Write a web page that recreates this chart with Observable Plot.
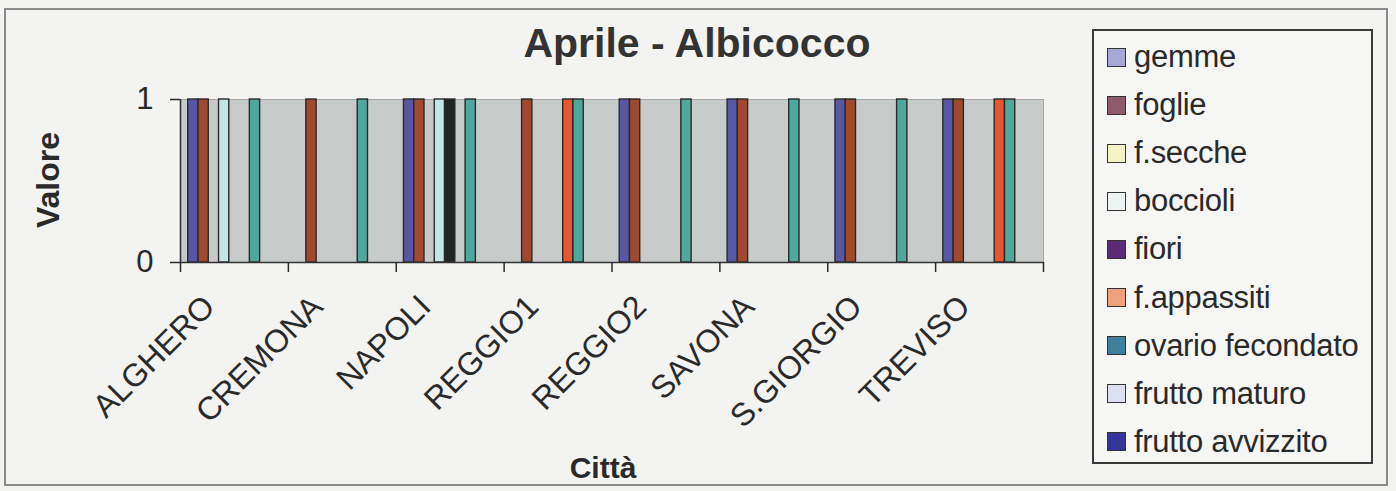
<!DOCTYPE html>
<html>
<head>
<meta charset="utf-8">
<script src="https://cdn.jsdelivr.net/npm/d3@7"></script>
<script src="https://cdn.jsdelivr.net/npm/@observablehq/plot@0.6"></script>
<style>
  html, body { margin: 0; padding: 0; background: #f3f3f1; }
  #wrap { position: relative; width: 1396px; height: 491px; overflow: hidden;
          font-family: "Liberation Sans", Arial, sans-serif; color: #2a2a2a; }
  #border { position: absolute; left: 4px; top: 8px; width: 1384px; height: 478px;
            border: 2px solid #8a8a8a; box-sizing: border-box; }
  #chart { position: absolute; left: 0; top: 0; }
  #title { position: absolute; left: 0; width: 1394px; top: 19px; text-align: center;
           font-weight: bold; font-size: 41px; line-height: 48px; color: #333; }
  #ylab { position: absolute; left: 48px; top: 180px; transform: translate(-50%, -50%) rotate(-90deg);
          font-weight: bold; font-size: 32px; line-height: 36px; white-space: nowrap; color: #2a2a2a; }
  #xlab { position: absolute; left: 603px; top: 451px; transform: translateX(-50%);
          font-weight: bold; font-size: 30px; line-height: 34px; white-space: nowrap; color: #2a2a2a; }
  #legend { position: absolute; left: 1092px; top: 29px; width: 281px; height: 435px;
            border: 2px solid #3a3a3a; box-sizing: border-box; background: #f6f6f4; }
  .item { position: absolute; left: 13px; height: 40px; display: flex; align-items: center;
          font-size: 31px; white-space: nowrap; color: #2a2a2a; letter-spacing: -0.3px; }
  .sw { width: 19px; height: 19px; border: 1.5px solid #333; box-sizing: border-box; margin-right: 8px; }
</style>
</head>
<body>
<div id="wrap">
  <div id="border"></div>
  <div id="chart"></div>
  <div id="title">Aprile - Albicocco</div>
  <div id="ylab">Valore</div>
  <div id="xlab">Città</div>
  <div id="legend"></div>
</div>
<script>
// ---- data ----
const cities = ["ALGHERO", "CREMONA", "NAPOLI", "REGGIO1", "REGGIO2", "SAVONA", "S.GIORGIO", "TREVISO"];
const seriesNames = ["gemme", "foglie", "f.secche", "boccioli", "fiori", "f.appassiti",
                     "ovario fecondato", "frutto maturo", "frutto avvizzito"];
const gemme           = [1, 0, 1, 0, 1, 1, 1, 1];
const foglie          = [1, 1, 1, 1, 1, 1, 1, 1];
const fSecche         = [0, 0, 0, 0, 0, 0, 0, 0];
const boccioli        = [1, 0, 1, 0, 0, 0, 0, 0];
const fiori           = [0, 0, 1, 0, 0, 0, 0, 0];
const fAppassiti      = [0, 0, 0, 1, 0, 0, 0, 1];
const ovarioFecondato = [1, 1, 1, 1, 1, 1, 1, 1];
const fruttoMaturo    = [0, 0, 0, 0, 0, 0, 0, 0];
const fruttoAvvizzito = [0, 0, 0, 0, 0, 0, 0, 0];
const yTicks = [0, 1];

// ---- styles ----
const barColors = ["#5757a6", "#a1492f", "#f2f2c4", "#c2e6e6", "#1f2624", "#e8552f",
                   "#4ea89b", "#d9dcf0", "#30307e"];
const legendColors = ["#a7a8d6", "#8e5a6c", "#f3f3c6", "#eef3f3", "#5b2b78", "#f0a07a",
                      "#3f7f9e", "#dde0f0", "#34349a"];

const seriesValues = [gemme, foglie, fSecche, boccioli, fiori, fAppassiti,
                      ovarioFecondato, fruttoMaturo, fruttoAvvizzito];
const rows = seriesValues.flatMap((vals, si) =>
  vals.map((value, ci) => ({city: cities[ci], ci, series: seriesNames[si], si, value})));

const nS = seriesNames.length;
const gap = 1.5;               // gap width between groups, in bar widths
const step = 1 / (nS + gap);   // bar width as a fraction of one category

const chart = Plot.plot({
  width: 1090,
  height: 491,
  marginLeft: 180,
  marginRight: 47,
  marginTop: 99,
  marginBottom: 229,
  x: {domain: [0, cities.length]},
  y: {domain: [0, 1]},
  color: {domain: seriesNames, range: barColors},
  style: {background: "transparent", fontFamily: "'Liberation Sans', Arial, sans-serif", color: "#2a2a2a"},
  marks: [
    Plot.frame({fill: "#c6cbca", stroke: "#a3a7a7"}),
    Plot.rectY(rows, {
      filter: d => d.value > 0,
      x1: d => d.ci + (gap / 2 + d.si) * step,
      x2: d => d.ci + (gap / 2 + d.si + 1) * step,
      y: "value",
      fill: "series",
      stroke: "#2a2a2a",
      strokeWidth: 1.4
    }),
    Plot.ruleX([0], {stroke: "#333", strokeWidth: 1.6}),
    Plot.ruleY([0], {stroke: "#333", strokeWidth: 1.6}),
    Plot.axisY({ticks: yTicks, tickSize: 10, tickPadding: 17, fontSize: 31, strokeWidth: 1.5,
                tickFormat: d3.format("d"), label: null}),
    Plot.axisX({ticks: d3.range(0, cities.length + 1), tickSize: 10, strokeWidth: 1.5,
                tickFormat: () => "", label: null}),
    Plot.axisX({ticks: cities.map((_, i) => i + 0.5), tickSize: 0, tickRotate: -45, fontSize: 32,
                tickFormat: t => cities[Math.floor(t)], label: null, dx: -25, dy: 27})
  ]
});
document.getElementById("chart").appendChild(chart);

// ---- legend ----
const legend = document.getElementById("legend");
seriesNames.forEach((name, i) => {
  const item = document.createElement("div");
  item.className = "item";
  item.style.top = (6 + i * 48.1) + "px";
  const sw = document.createElement("span");
  sw.className = "sw";
  sw.style.background = legendColors[i];
  const lab = document.createElement("span");
  lab.textContent = name;
  item.appendChild(sw);
  item.appendChild(lab);
  legend.appendChild(item);
});
</script>
</body>
</html>
